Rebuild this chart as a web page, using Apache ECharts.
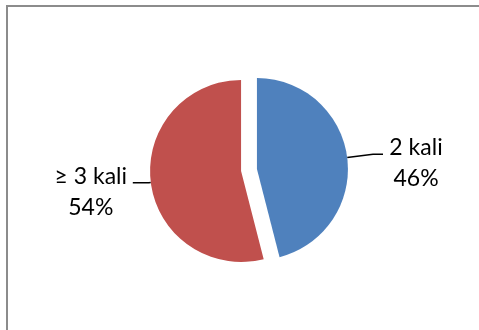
<!DOCTYPE html>
<html>
<head>
<meta charset="utf-8">
<script src="https://cdn.jsdelivr.net/npm/echarts@6/dist/echarts.min.js"></script>
<style>
  html, body { margin: 0; padding: 0; background: #fff; }
  #frame { position: absolute; left: 6px; top: 5px; width: 600px; height: 500px;
           border-left: 2px solid #8c8c8c; border-top: 2px solid #8c8c8c; }
  #chart { position: absolute; left: 0; top: 0; width: 479px; height: 330px; }
</style>
</head>
<body>
<div id="frame"></div>
<div id="chart"></div>
<script>
const categories = ['2 kali', '≥ 3 kali'];
const values = [46, 54];
const colors = ['#4F81BD', '#C0504D'];

const labelWidths = [60, 78];
const lineLengths = [[26, 10], [2, 16]];

const chart = echarts.init(document.getElementById('chart'), null, { renderer: 'canvas' });

const data = categories.map((name, i) => ({
  name: name,
  value: values[i],
  selected: true,
  itemStyle: { color: colors[i] },
  label: {
    rich: {
      t: { width: labelWidths[i], align: 'center', fontSize: 23, lineHeight: 31,
           fontFamily: 'Lato', color: '#000' }
    }
  },
  labelLine: { length: lineLengths[i][0], length2: lineLengths[i][1] }
}));

chart.setOption({
  animation: false,
  series: [{
    type: 'pie',
    center: [249, 170],
    radius: [0, 91],
    startAngle: 90,
    clockwise: true,
    selectedMode: 'multiple',
    selectedOffset: 8,
    avoidLabelOverlap: false,
    emphasis: { disabled: true },
    itemStyle: { borderWidth: 0 },
    label: {
      show: true,
      position: 'outside',
      formatter: '{t|{b}}\n{t|{c}%}',
      distanceToLabelLine: 3,
      padding: [18, 0, 0, 0],
      fontFamily: 'Lato'
    },
    labelLine: {
      show: true,
      lineStyle: { color: '#000', width: 1.5 }
    },
    data: data
  }]
});
</script>
</body>
</html>
